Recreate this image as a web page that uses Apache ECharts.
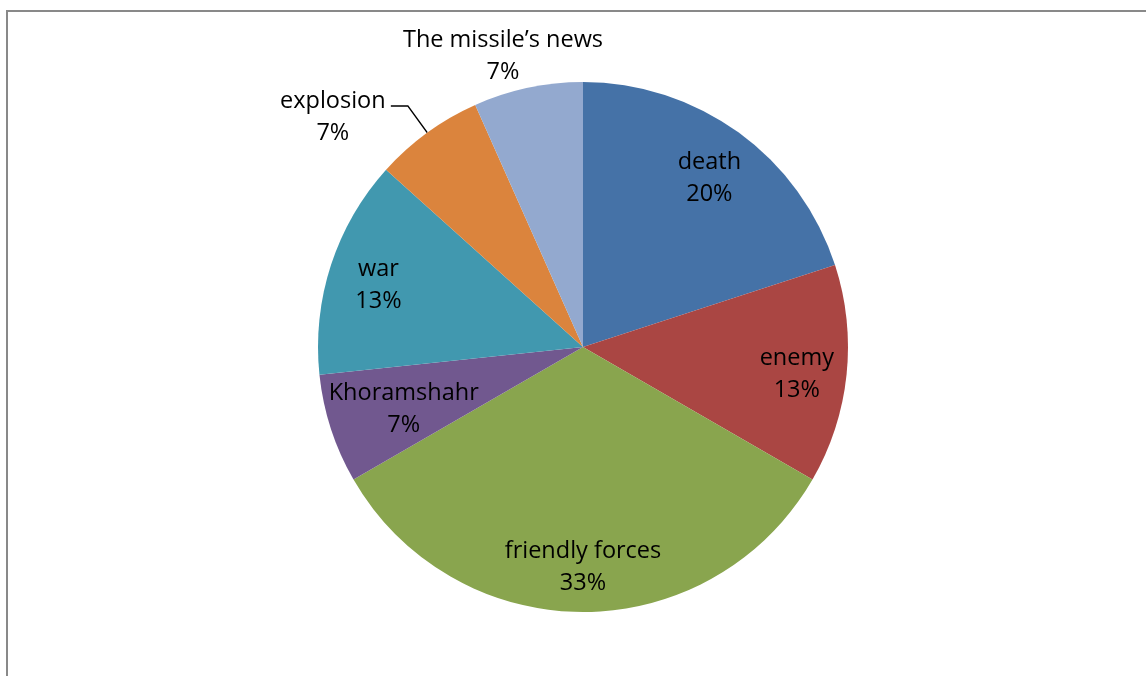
<!DOCTYPE html>
<html>
<head>
<meta charset="utf-8">
<script src="https://cdn.jsdelivr.net/npm/echarts@6/dist/echarts.min.js"></script>
<style>
html,body{margin:0;padding:0;background:#fff;}
#chart{width:1146px;height:676px;}
</style>
</head>
<body>
<div id="chart"></div>
<script>
// Data (counts out of 15 responses; labels show rounded percentages)
const categories = ['death', 'enemy', 'friendly forces', 'Khoramshahr', 'war', 'explosion', 'The missile\u2019s news'];
const values = [3, 2, 5, 1, 2, 1, 1];
const colors = ['#4572A7', '#AA4643', '#89A54E', '#71588F', '#4198AF', '#DB843D', '#93A9CF'];

const FONT = 'Open Sans';
const CX = 583, CY = 347, R = 265;

const chart = echarts.init(document.getElementById('chart'), null, {renderer: 'canvas'});

const labelStyle = {
  fontFamily: FONT,
  fontSize: 23.5,
  lineHeight: 32,
  color: '#000',
  formatter: p => p.name + '\n' + Math.round(p.percent) + '%'
};

function labelSeries(radius, shown, position, offset) {
  return {
    type: 'pie',
    silent: true,
    center: [CX, CY],
    radius: radius,
    startAngle: 90,
    clockwise: true,
    avoidLabelOverlap: false,
    itemStyle: {color: 'rgba(0,0,0,0)', borderWidth: 0},
    emphasis: {disabled: true},
    labelLine: {show: false},
    data: categories.map((c, i) => ({
      name: c,
      value: values[i],
      label: Object.assign({}, labelStyle, {show: shown.indexOf(c) >= 0, position: position, offset: offset})
    }))
  };
}

const centeredRich = {
  c: {fontFamily: FONT, fontSize: 23.5, lineHeight: 32, color: '#000', width: 104, align: 'center'}
};

const option = {
  animation: false,
  graphic: [{
    type: 'rect',
    shape: {x: 7, y: 11, width: 1160, height: 720},
    style: {fill: 'none', stroke: '#898989', lineWidth: 2},
    silent: true
  }],
  series: [
    {
      type: 'pie',
      silent: true,
      center: [CX, CY],
      radius: R,
      startAngle: 90,
      clockwise: true,
      avoidLabelOverlap: false,
      emphasis: {disabled: true},
      itemStyle: {borderWidth: 0},
      data: categories.map((c, i) => {
        const item = {name: c, value: values[i], itemStyle: {color: colors[i]}};
        if (c === 'explosion') {
          item.label = Object.assign({}, labelStyle, {
            show: true, position: 'outside', offset: [0, 11], distanceToLabelLine: 6,
            formatter: p => '{c|' + p.name + '}\n{c|' + Math.round(p.percent) + '%}',
            rich: centeredRich
          });
          item.labelLine = {show: true, length: 33, length2: 17, smooth: false, lineStyle: {color: '#000', width: 1.5}};
        } else {
          item.label = {show: false};
          item.labelLine = {show: false};
        }
        return item;
      })
    },
    labelSeries([0.6 * R, R], ['death', 'enemy', 'friendly forces', 'war'], 'inside', [0, 5]),
    labelSeries([0.4 * R, R], ['Khoramshahr'], 'inside', [0, 4]),
    labelSeries([R, 1.3 * R], ['The missile\u2019s news'], 'inside', [-16, 10])
  ]
};
chart.setOption(option);
</script>
</body>
</html>
